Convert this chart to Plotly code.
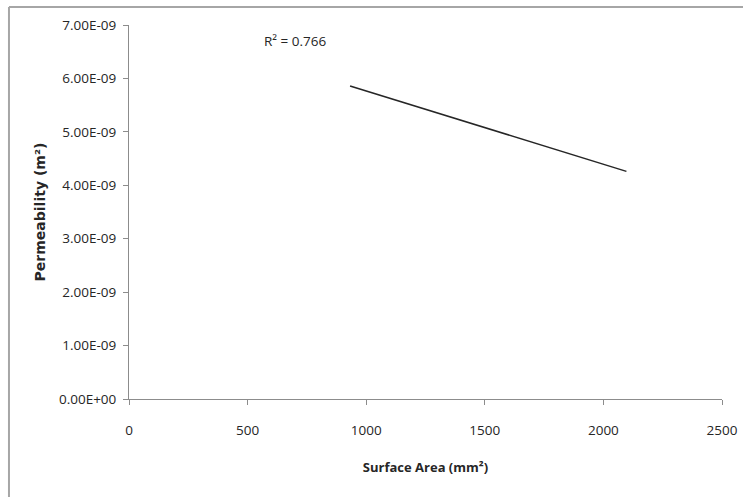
import plotly.graph_objects as go

# Trend line endpoints
surface_area = [932, 2097]
permeability = [5.86e-9, 4.26e-9]

x_tick_vals = [0, 500, 1000, 1500, 2000, 2500]
y_tick_vals = [0, 1e-9, 2e-9, 3e-9, 4e-9, 5e-9, 6e-9, 7e-9]
y_tick_text = ["0.00E+00", "1.00E-09", "2.00E-09", "3.00E-09", "4.00E-09",
               "5.00E-09", "6.00E-09", "7.00E-09"]

font_family = "Open Sans, Noto Sans, sans-serif"
text_color = "#262626"

fig = go.Figure()
fig.add_trace(go.Scatter(x=surface_area, y=permeability, mode="lines",
                         line=dict(color="#262626", width=1.5),
                         showlegend=False, hoverinfo="skip"))

axis_common = dict(showgrid=False, zeroline=False, showline=True, automargin=False,
                   linecolor="#8c8c8c", linewidth=1, ticks="outside",
                   tickcolor="#8c8c8c", ticklen=5,
                   tickfont=dict(family=font_family, size=13.5, color=text_color))

fig.update_xaxes(range=[0, 2500], tickvals=x_tick_vals, ticklabelstandoff=14,
                 title=dict(text="<b>Surface Area (mm²)</b>", standoff=24,
                            font=dict(family=font_family, size=13, color=text_color)),
                 **axis_common)
fig.update_yaxes(range=[0, 7e-9], tickvals=y_tick_vals, ticktext=y_tick_text,
                 ticklabelstandoff=4,
                 title=dict(text="<b>Permeability (m²)</b>", standoff=10,
                            font=dict(family="DejaVu Sans, sans-serif", size=14,
                                      color=text_color)),
                 **axis_common)

fig.add_annotation(text="R² = 0.766", x=561, y=6.7e-9, xref="x", yref="y",
                   xanchor="left", yanchor="middle", showarrow=False,
                   font=dict(family=font_family, size=13.5, color=text_color))

# outer chart frame (top and left edges are visible in the crop)
fig.add_shape(type="line", xref="paper", yref="paper",
              x0=-0.2024, y0=1.048, x1=1.05, y1=1.048,
              line=dict(color="#a6a6a6", width=2))
fig.add_shape(type="line", xref="paper", yref="paper",
              x0=-0.2024, y0=1.048, x1=-0.2024, y1=-0.27,
              line=dict(color="#a6a6a6", width=2))

fig.update_layout(width=743, height=497,
                  margin=dict(l=129, r=21, t=25, b=98),
                  plot_bgcolor="white", paper_bgcolor="white")

fig.write_html("out.html",
               config={"displayModeBar": False, "responsive": False},
               post_script="document.body.style.margin='0';"
                           "document.body.style.overflow='hidden';")
